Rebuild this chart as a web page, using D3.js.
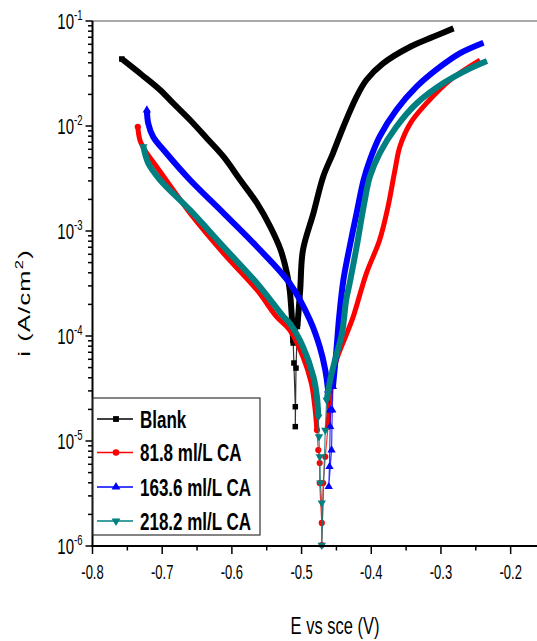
<!DOCTYPE html>
<html>
<head>
<meta charset="utf-8">
<script src="https://cdn.jsdelivr.net/npm/d3@7/dist/d3.min.js"></script>
<style>
  body { margin: 0; background: #fff; }
  text { font-family: "Liberation Sans", Arial, sans-serif; }
</style>
</head>
<body>
<script>
// polarisation curves, E (V vs SCE) against i (A/cm2)
var blankE = [-0.758, -0.729, -0.703, -0.684, -0.660, -0.636, -0.612, -0.588, -0.564, -0.545, -0.530, -0.521, -0.517, -0.514, -0.512,
              -0.511, -0.509, -0.509,
              -0.508, -0.506, -0.502, -0.498, -0.483, -0.469, -0.455, -0.440, -0.421, -0.407, -0.383, -0.344, -0.311, -0.282];
var blankI = [4.35e-2, 3.06e-2, 2.20e-2, 1.64e-2, 1.14e-2, 7.64e-3, 5.10e-3, 3.06e-3, 1.84e-3, 1.10e-3, 6.59e-4, 3.95e-4, 2.74e-4, 1.53e-4, 8.57e-5,
              5.53e-5, 2.12e-5, 1.37e-5,
              4.95e-5, 1.23e-4, 2.74e-4, 6.59e-4, 1.48e-3, 3.29e-3, 5.50e-3, 9.84e-3, 1.90e-2, 2.74e-2, 3.95e-2, 5.69e-2, 7.08e-2, 8.51e-2];

var ca818E = [-0.735, -0.732, -0.725, -0.708, -0.684, -0.660, -0.612, -0.564, -0.536, -0.517, -0.498, -0.486, -0.481, -0.478,
              -0.476, -0.474, -0.474, -0.471, -0.471,
              -0.469, -0.466, -0.462, -0.457,
              -0.450, -0.435, -0.426, -0.407, -0.388, -0.376, -0.366, -0.359, -0.344, -0.321, -0.287, -0.244];
var ca818I = [9.84e-3, 7.36e-3, 5.91e-3, 4.09e-3, 2.45e-3, 1.48e-3, 6.14e-4, 2.74e-4, 1.53e-4, 1.14e-4, 6.35e-5, 3.55e-5, 2.12e-5, 1.27e-5,
              8.21e-6, 6.17e-6, 3.98e-6, 1.66e-6, 1.02e-6,
              3.98e-6, 7.08e-6, 1.37e-5, 3.55e-5,
              5.91e-5, 1.06e-4, 1.52e-4, 3.95e-4, 8.20e-4, 1.70e-3, 3.81e-3, 6.35e-3, 1.06e-2, 1.64e-2, 2.74e-2, 4.25e-2];

var ca1636E = [-0.722, -0.720, -0.713, -0.694, -0.660, -0.612, -0.564, -0.517, -0.488, -0.474, -0.466, -0.462,
               -0.459, -0.459, -0.460, -0.461,
               -0.457, -0.456, -0.455,
               -0.450, -0.446, -0.440, -0.431, -0.421, -0.411, -0.402, -0.388, -0.364, -0.335, -0.301, -0.273, -0.239];
var ca1636I = [1.42e-2, 1.06e-2, 7.91e-3, 5.50e-3, 3.06e-3, 1.48e-3, 7.08e-4, 3.18e-4, 1.42e-4, 7.91e-5, 4.74e-5, 3.06e-5,
               1.97e-5, 1.37e-5, 5.69e-6, 3.67e-6,
               8.20e-6, 1.97e-5, 3.29e-5,
               7.36e-5, 1.53e-4, 3.41e-4, 7.08e-4, 1.48e-3, 3.06e-3, 4.74e-3, 7.91e-3, 1.42e-2, 2.37e-2, 3.67e-2, 4.92e-2, 6.21e-2];

var ca2182E = [-0.727, -0.720, -0.703, -0.660, -0.612, -0.564, -0.526, -0.517, -0.498, -0.483, -0.478, -0.476,
               -0.475, -0.474, -0.473, -0.471, -0.471,
               -0.466, -0.464, -0.459,
               -0.452, -0.442, -0.436, -0.431, -0.421, -0.411, -0.402, -0.388, -0.364, -0.335, -0.297, -0.263, -0.234];
var ca2182I = [6.35e-3, 4.42e-3, 3.06e-3, 1.58e-3, 7.08e-4, 3.18e-4, 1.53e-4, 1.32e-4, 7.91e-5, 4.09e-5, 2.64e-5, 1.70e-5,
               1.10e-5, 7.08e-6, 3.98e-6, 2.57e-6, 1.02e-6,
               1.27e-5, 2.45e-5, 3.81e-5,
               5.91e-5, 1.06e-4, 2.20e-4, 3.18e-4, 7.08e-4, 1.70e-3, 3.29e-3, 5.50e-3, 9.84e-3, 1.64e-2, 2.55e-2, 3.41e-2, 4.16e-2];

var seriesNames = ["Blank", "81.8 ml/L CA", "163.6 ml/L CA", "218.2 ml/L CA"];
// below this current the recorded points are sparse (thin line + separate symbols)
var sparseBelow = [8e-5, 1.2e-5, 2.5e-5, 1.6e-5];

var xTicks = [-0.8, -0.7, -0.6, -0.5, -0.4, -0.3, -0.2];
var yExponents = [-1, -2, -3, -4, -5, -6];

var colors = ["#000000", "#ff0000", "#0000ff", "#008080"];
var symbols = [d3.symbolSquare, d3.symbolCircle, d3.symbolTriangle, d3.symbolTriangle];

var W = 537, H = 641;
var svg = d3.select("body").append("svg").attr("width", W).attr("height", H);

var x = d3.scaleLinear().domain([-0.8, -0.15]).range([92.5, 545.5]);
var y = d3.scaleLog().domain([1e-6, 1e-1]).range([546, 21]);

var series = [
  {E: blankE, I: blankI},
  {E: ca818E, I: ca818I},
  {E: ca1636E, I: ca1636I},
  {E: ca2182E, I: ca2182I}
].map(function (s, k) {
  return {name: seriesNames[k], cut: sparseBelow[k], color: colors[k], symbol: symbols[k],
          flip: k === 3, pts: s.E.map(function (e, i) { return [e, s.I[i]]; })};
});

// top frame line
svg.append("line").attr("x1", 92).attr("x2", W).attr("y1", 21).attr("y2", 21)
  .attr("stroke", "#555").attr("stroke-width", 1.2);

var line = d3.line().x(function (d) { return x(d[0]); }).y(function (d) { return y(d[1]); });
var smooth = d3.line().curve(d3.curveCatmullRom.alpha(0.5))
  .x(function (d) { return x(d[0]); }).y(function (d) { return y(d[1]); });

var plot = svg.append("g");
series.forEach(function (s) {
  var g = plot.append("g");
  // thin line through all points
  g.append("path").attr("d", line(s.pts)).attr("fill", "none")
    .attr("stroke", s.color).attr("stroke-width", 1.2).attr("stroke-opacity", 0.8);
  // dense runs drawn thick
  var runs = [], cur = [];
  s.pts.forEach(function (p) {
    if (p[1] >= s.cut) { cur.push(p); }
    else { if (cur.length > 1) runs.push(cur); cur = []; }
  });
  if (cur.length > 1) runs.push(cur);
  runs.forEach(function (r) {
    g.append("path").attr("d", smooth(r)).attr("fill", "none")
      .attr("stroke", s.color).attr("stroke-width", s.name === "81.8 ml/L CA" ? 5 : 6)
      .attr("stroke-linejoin", "round").attr("stroke-linecap", "butt");
  });
  var sym = d3.symbol().type(s.symbol).size(30);
  var shown = s.pts.filter(function (p, i) { return i === 0 || p[1] < s.cut * 1.6; });
  g.selectAll("path.pt").data(shown).enter().append("path").attr("class", "pt")
    .attr("d", sym)
    .attr("fill", s.color)
    .attr("transform", function (d) {
      return "translate(" + x(d[0]) + "," + y(d[1]) + ")" + (s.flip ? " rotate(180)" : "");
    });
});

// x axis
var xAxis = svg.append("g").attr("transform", "translate(0,546)");
xAxis.append("line").attr("x1", 91.5).attr("x2", W).attr("stroke", "#000").attr("stroke-width", 2);
xAxis.selectAll("line.maj").data(xTicks).enter().append("line")
  .attr("x1", function (d) { return x(d); }).attr("x2", function (d) { return x(d); })
  .attr("y1", 0).attr("y2", 8).attr("stroke", "#000").attr("stroke-width", 1.5);
xAxis.selectAll("line.min").data(xTicks).enter().append("line")
  .attr("x1", function (d) { return x(d + 0.05); }).attr("x2", function (d) { return x(d + 0.05); })
  .attr("y1", 0).attr("y2", 4.5).attr("stroke", "#000").attr("stroke-width", 1.5);
xAxis.selectAll("text").data(xTicks).enter().append("text")
  .attr("transform", function (d) { return "translate(" + x(d) + ",33) scale(1,1.5)"; })
  .attr("text-anchor", "middle").attr("font-size", 13).attr("fill", "#000")
  .text(function (d) { return d3.format(".1f")(d).replace("−", "-"); });

// y axis
var yAxis = svg.append("g");
yAxis.append("line").attr("x1", 92.5).attr("x2", 92.5).attr("y1", 21).attr("y2", 547)
  .attr("stroke", "#000").attr("stroke-width", 2);
var minors = [];
yExponents.forEach(function (e) {
  if (e === -1) return;
  for (var m = 2; m <= 9; m++) minors.push(m * Math.pow(10, e));
});
yAxis.selectAll("line.min").data(minors).enter().append("line")
  .attr("x1", 88).attr("x2", 92.5)
  .attr("y1", function (d) { return y(d); }).attr("y2", function (d) { return y(d); })
  .attr("stroke", "#000").attr("stroke-width", 1.5);
yAxis.selectAll("line.maj").data(yExponents).enter().append("line")
  .attr("x1", 85.5).attr("x2", 92.5)
  .attr("y1", function (d) { return y(Math.pow(10, d)); }).attr("y2", function (d) { return y(Math.pow(10, d)); })
  .attr("stroke", "#000").attr("stroke-width", 1.5);
var yl = yAxis.selectAll("g.lab").data(yExponents).enter().append("g")
  .attr("transform", function (d) { return "translate(0," + y(Math.pow(10, d)) + ")"; });
yl.append("text").attr("transform", "translate(74,8) scale(1,1.5)")
  .attr("text-anchor", "end").attr("font-size", 15).text("10");
yl.append("text").attr("transform", "translate(74,-1) scale(1,1.5)")
  .attr("font-size", 9.5).text(function (d) { return "-" + Math.abs(d); });

// axis titles
svg.append("text").attr("transform", "translate(335,634) scale(1,1.4)")
  .attr("text-anchor", "middle").attr("font-size", 16.5).text("E vs sce (V)");
var yt = svg.append("text").attr("transform", "translate(30,303) rotate(-90) scale(1.5,1)")
  .attr("text-anchor", "middle").attr("font-size", 17).attr("letter-spacing", 0.8);
yt.append("tspan").text("i (A/cm");
yt.append("tspan").attr("font-size", 11).attr("dy", -7).text("2");
yt.append("tspan").attr("dy", 7).text(")");

// legend
var lg = svg.append("g");
lg.append("rect").attr("x", 93).attr("y", 398).attr("width", 167).attr("height", 137)
  .attr("fill", "#fff").attr("stroke", "#333").attr("stroke-width", 1.2);
var rowY = [419, 452.5, 487, 521];
series.forEach(function (s, k) {
  var r = lg.append("g").attr("transform", "translate(0," + rowY[k] + ")");
  r.append("line").attr("x1", 97).attr("x2", 133).attr("stroke", s.color).attr("stroke-width", 1.5);
  r.append("path").attr("d", d3.symbol().type(s.symbol).size(34)())
    .attr("fill", s.color)
    .attr("transform", "translate(116,0)" + (s.flip ? " rotate(180)" : ""));
  r.append("text").attr("transform", "translate(140,8.5) scale(1,1.38)")
    .attr("font-size", 17).attr("font-weight", "bold").text(s.name);
});
</script>
</body>
</html>
